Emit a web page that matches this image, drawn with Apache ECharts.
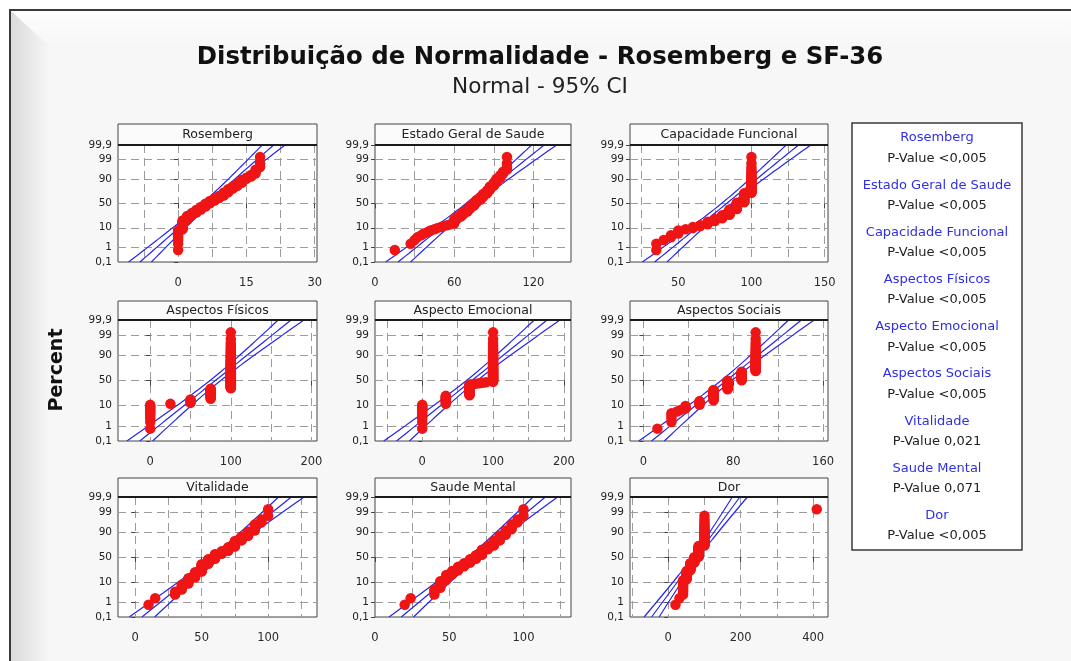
<!DOCTYPE html>
<html><head><meta charset="utf-8">
<script src="https://cdn.jsdelivr.net/npm/echarts@6/dist/echarts.min.js"></script>
<style>html,body{margin:0;padding:0;background:#fff;}#c{width:1071px;height:661px;}</style>
</head><body><div id="c"></div>
<script>
// ---------------- DATA ----------------
const panelNames = ['Rosemberg','Estado Geral de Saude','Capacidade Funcional','Aspectos Físicos','Aspecto Emocional','Aspectos Sociais','Vitalidade','Saude Mental','Dor'];
const pValues = ['<0,005','<0,005','<0,005','<0,005','<0,005','<0,005','0,021','0,071','<0,005'];
// observed values as [value, number of subjects with that value]
const rosemberg = [[0,8],[1,11],[2,7],[3,5],[4,6],[5,6],[6,7],[7,6],[8,5],[9,5],[10,6],[11,6],[12,4],[13,4],[14,4],[15,2],[16,2],[17,3],[18,3]];
const estadoGeral = [[15,1],[27,1],[30,1],[32,1],[35,1],[37,1],[40,1],[42,1],[45,1],[47,1],[50,1],[52,1],[55,1],[57,1],[60,6],[62,4],[65,4],[67,5],[70,6],[72,6],[75,7],[77,6],[80,6],[82,6],[85,6],[87,6],[90,5],[92,4],[95,3],[97,2],[100,4]];
const capacidade = [[35,2],[40,1],[45,2],[50,3],[55,1],[60,2],[65,2],[70,4],[75,4],[80,6],[85,11],[90,14],[95,19],[100,29]];
const aspFisicos = [[0,11],[25,1],[50,5],[75,17],[100,66]];
const aspEmocional = [[0,11],[33.3,11],[66.7,20],[70,1],[75,1],[80,1],[85,1],[90,1],[100,53]];
const aspSociais = [[12.5,1],[25,4],[30,1],[33,1],[37.5,3],[50,5],[62.5,17],[75,18],[87.5,18],[100,32]];
const vitalidade = [[10,1],[15,1],[30,2],[35,4],[40,6],[45,8],[50,14],[55,10],[60,10],[65,6],[70,8],[75,10],[80,6],[85,5],[90,5],[95,2],[100,2]];
const saudeMental = [[20,1],[24,1],[40,3],[44,6],[48,7],[52,6],[56,7],[60,7],[64,8],[68,8],[72,11],[76,7],[80,8],[84,7],[88,5],[92,4],[96,2],[100,2]];
const dor = [[20,1],[31,1],[41,10],[51,12],[61,14],[72,12],[84,22],[100,27],[410,1]];
const panelData = [rosemberg, estadoGeral, capacidade, aspFisicos, aspEmocional, aspSociais, vitalidade, saudeMental, dor];
// fitted normal line (mean, stdev) and CI sample size
const fitMean = [6.3, 72.8, 83, 80.9, 70, 74, 61.25, 66.2, 75.9];
const fitSd   = [4.75, 17.9, 15.9, 30.4, 34.4, 21.6, 18.2, 15.7, 39.4];
const ciSampleSize = 80;
// axes
const xMin = [-13.2, 0, 17, -40, -66.7, -11.9, -13, 0, -105.5];
const xMax = [30.5, 148.5, 152.3, 207, 210, 164.4, 136.8, 132, 441];
const xLabelTicks = [[0,15,30],[0,60,120],[50,100,150],[0,100,200],[0,100,200],[0,80,160],[0,50,100],[0,50,100],[0,200,400]];
const xGridTicks = [[-7.5,0,7.5,15,22.5,30],[30,60,90,120],[25,50,75,100,125,150],[0,50,100,150,200],[-50,0,50,100,150,200],[0,40,80,120,160],[0,25,50,75,100,125],[25,50,75,100,125],[-100,0,100,200,300,400]];
const yTickPercents = [0.1, 1, 10, 50, 90, 99, 99.9];
const titleText = 'Distribuição de Normalidade - Rosemberg e SF-36';
const subtitleText = 'Normal - 95% CI';
const yAxisTitle = 'Percent';

// ---------------- helpers ----------------
function invNorm(p){
  const a=[-3.969683028665376e+01,2.209460984245205e+02,-2.759285104469687e+02,1.383577518672690e+02,-3.066479806614716e+01,2.506628277459239e+00];
  const b=[-5.447609879822406e+01,1.615858368580409e+02,-1.556989798598866e+02,6.680131188771972e+01,-1.328068155288572e+01];
  const c=[-7.784894002430293e-03,-3.223964580411365e-01,-2.400758277161838e+00,-2.549671010115603e+00,4.374664141464968e+00,2.938163982698783e+00];
  const d=[7.784695709041462e-03,3.224671290700398e-01,2.445134137142996e+00,3.754408661907416e+00];
  const pl=0.02425; let q,r;
  if(p>0.5) return -invNorm(1-p);
  if(p<pl){q=Math.sqrt(-2*Math.log(p));return (((((c[0]*q+c[1])*q+c[2])*q+c[3])*q+c[4])*q+c[5])/((((d[0]*q+d[1])*q+d[2])*q+d[3])*q+1);}
  q=p-0.5;r=q*q;return (((((a[0]*r+a[1])*r+a[2])*r+a[3])*r+a[4])*r+a[5])*q/(((((b[0]*r+b[1])*r+b[2])*r+b[3])*r+b[4])*r+1);
}
function zOf(pct){ return Math.round(invNorm(pct/100)*1e6)/1e6; }
const yTicks = yTickPercents.map(zOf);
const zLo = zOf(0.1) - 1e-6, zHi = -zLo;
function pctLabel(v){
  let best=0; yTicks.forEach((t,i)=>{ if(Math.abs(t-v)<Math.abs(yTicks[best]-v)) best=i; });
  return String(yTickPercents[best]).replace('.',',');
}
function expand(runs){ const out=[]; runs.forEach(([v,c])=>{ for(let k=0;k<c;k++) out.push(v); }); return out; }
function fitFontSize(text, weight, family, targetW){
  const ctx=document.createElement('canvas').getContext('2d');
  ctx.font = weight+' 100px '+family;
  return Math.round(100*targetW/ctx.measureText(text).width*10)/10;
}

// ---------------- layout ----------------
const FONT = '"DejaVu Sans", Verdana, sans-serif';
const colLeft = [118, 375, 630], colWidth = [199, 196, 198];
const rowTop = [145, 320, 497], rowHeight = [117, 121, 120], headTop = [124, 301, 478];
const BLUE = '#2626ea', RED = '#f01515', GRID = '#9c9c9c';

const grids=[], xAxes=[], yAxes=[], series=[], graphics=[];
// frame
graphics.push({type:'rect', z:-10, shape:{x:10,y:10,width:1100,height:700}, style:{fill:'#f7f7f7', stroke:'#3a3a3a', lineWidth:2}});
graphics.push({type:'rect', z:-9, shape:{x:11,y:11,width:1100,height:36}, style:{fill:{type:'linear',x:0,y:0,x2:0,y2:1,colorStops:[{offset:0,color:'#fdfdfd'},{offset:1,color:'#f7f7f7'}]}}});
graphics.push({type:'polygon', z:-8, shape:{points:[[11,11],[50,47],[50,700],[11,700]]}, style:{fill:{type:'linear',x:0,y:0,x2:1,y2:0,colorStops:[{offset:0,color:'#dadada'},{offset:1,color:'#f7f7f7'}]}}});

for(let i=0;i<9;i++){
  const r=Math.floor(i/3), c=i%3;
  const L=colLeft[c], W=colWidth[c], T=rowTop[r], H=rowHeight[r];
  grids.push({left:L, top:T, width:W, height:H, show:true, backgroundColor:'#ffffff', borderColor:'#444', borderWidth:1, containLabel:false});
  xAxes.push({type:'value', gridIndex:i, position:'bottom', min:xMin[i], max:xMax[i],
    axisLine:{show:false},
    axisTick:{show:true, length:5, customValues:xLabelTicks[i], lineStyle:{color:'#444'}},
    axisLabel:{customValues:xLabelTicks[i], margin:15, fontSize:11.5, color:'#2a2a2a', fontFamily:FONT},
    splitLine:{show:false}});
  xAxes.push({type:'value', gridIndex:i, position:'bottom', min:xMin[i], max:xMax[i],
    axisLine:{show:false}, axisTick:{show:false, customValues:xGridTicks[i]}, axisLabel:{show:false},
    splitLine:{show:true, lineStyle:{color:GRID, type:[8,5], width:1}}});
  yAxes.push({type:'value', gridIndex:i, min:zLo, max:zHi,
    axisLine:{show:false},
    axisTick:{show:true, length:4, customValues:yTicks, lineStyle:{color:'#444'}},
    axisLabel:{customValues:yTicks, formatter:(v)=>pctLabel(v), margin:6, fontSize:10.5, color:'#222', fontFamily:FONT},
    splitLine:{show:true, lineStyle:{color:GRID, type:[8,5], width:1}}});

  // probability plot points (median ranks)
  const vals = expand(panelData[i]).sort((a,b)=>a-b);
  const n = vals.length;
  const pts = vals.map((v,k)=>[v, invNorm((k+1-0.3)/(n+0.4))]);
  // fitted line and 95% CI
  const m=fitMean[i], s=fitSd[i], nc=ciSampleSize;
  const fit=[], lo=[], hi=[];
  const steps=40;
  for(let k=0;k<=steps;k++){
    const z = zLo + (zHi-zLo)*k/steps;
    const x = m + z*s;
    const se = s*Math.sqrt(1/nc + z*z/(2*nc));
    fit.push([x,z]); lo.push([x-1.96*se,z]); hi.push([x+1.96*se,z]);
  }
  [fit,lo,hi].forEach(dd=>series.push({type:'line', xAxisIndex:2*i, yAxisIndex:i, data:dd, showSymbol:false, symbol:'none', silent:true, clip:true, lineStyle:{color:BLUE, width:1.2}, z:2}));
  series.push({type:'scatter', xAxisIndex:2*i, yAxisIndex:i, data:pts, symbol:'circle', symbolSize:10.5, silent:true, itemStyle:{color:RED, opacity:1}, z:3});

  // header strip
  const hT=headTop[r];
  graphics.push({type:'rect', z:20, shape:{x:L, y:hT, width:W, height:T-hT}, style:{fill:'#fbfbfb', stroke:'#444', lineWidth:1}});
  graphics.push({type:'text', z:21, x:L+W/2, y:(hT+T)/2+0.5, style:{text:panelNames[i], align:'center', verticalAlign:'middle', textAlign:'center', textVerticalAlign:'middle', font:'12.5px '+FONT, fill:'#222'}});
  graphics.push({type:'line', z:21, shape:{x1:L, y1:T, x2:L+W, y2:T}, style:{stroke:'#1a1a1a', lineWidth:2}});
}

// titles
const titleSize = fitFontSize(titleText, 'bold', FONT, 688);
const subSize = fitFontSize(subtitleText, 'normal', FONT, 176);
graphics.push({type:'text', z:30, x:540, y:58, style:{text:titleText, align:'center', verticalAlign:'middle', textAlign:'center', textVerticalAlign:'middle', font:'bold '+titleSize+'px '+FONT, fill:'#111'}});
graphics.push({type:'text', z:30, x:540, y:87, style:{text:subtitleText, align:'center', verticalAlign:'middle', textAlign:'center', textVerticalAlign:'middle', font:subSize+'px '+FONT, fill:'#222'}});
graphics.push({type:'text', z:30, x:57, y:370, rotation:Math.PI/2, style:{text:yAxisTitle, align:'center', verticalAlign:'middle', textAlign:'center', textVerticalAlign:'middle', font:'bold 19px '+FONT, fill:'#111'}});

// legend box with p-values
graphics.push({type:'rect', z:20, shape:{x:852, y:123, width:170, height:427}, style:{fill:'#ffffff', stroke:'#3a3a3a', lineWidth:1.5}});
for(let i=0;i<9;i++){
  const y0 = 138 + i*47.2;
  graphics.push({type:'text', z:21, x:937, y:y0, style:{text:panelNames[i], align:'center', verticalAlign:'middle', textAlign:'center', textVerticalAlign:'middle', font:'13px '+FONT, fill:'#2f2fe6'}});
  graphics.push({type:'text', z:21, x:937, y:y0+20.5, style:{text:'P-Value '+pValues[i], align:'center', verticalAlign:'middle', textAlign:'center', textVerticalAlign:'middle', font:'13px '+FONT, fill:'#222'}});
}

const chart = echarts.init(document.getElementById('c'), null, {renderer:'canvas'});
chart.setOption({animation:false, backgroundColor:'#ffffff', grid:grids, xAxis:xAxes, yAxis:yAxes, series:series, graphic:{elements:graphics}});
</script></body></html>
